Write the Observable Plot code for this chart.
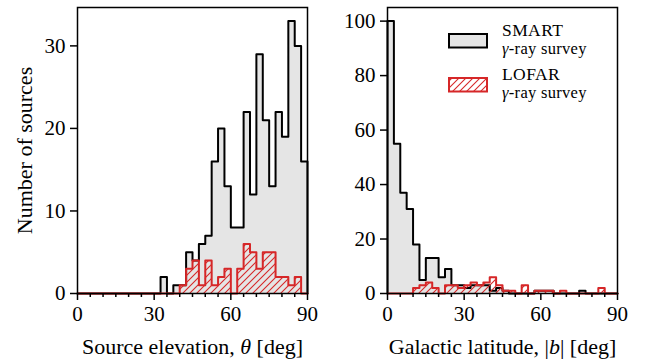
<!DOCTYPE html>
<html><head><meta charset="utf-8">
<script src="https://cdn.jsdelivr.net/npm/d3@7"></script>
<script src="https://cdn.jsdelivr.net/npm/@observablehq/plot@0.6"></script>
<style>
body{margin:0;background:#fff;}
#chart{position:relative;width:649px;height:359px;}
#chart svg{position:absolute;top:0;}
</style></head><body><div id="chart"></div>
<script>
// Histogram bin width (deg) and counts per 2.5-degree bin from 0 to 90
const binWidth = 2.5;
const elevSmart = [0,0,0,0,0,0,0,0,0,0,0,0,0,2,0,1,1,5,4,6,7,16,20,13,8,8,22,12,29,21,13,22,19,33,30,16];
const elevLofar = [0,0,0,0,0,0,0,0,0,0,0,0,0,0,0,0,1,3,4,1,4,1,2,3,0,3,6,5,3,5,5,2,2,1,2,0];
const latSmart  = [100,55,37,31,18,5,13,13,6,9,3,3,2,3,3,3,1,2,1,0,0,0,0,1,1,1,0,0,0,0,1,0,0,0,0,0];
const latLofar  = [0,0,0,0,2,3,4,2,0,3,3,2,3,4,3,4,6,3,1,1,0,3,0,1,1,1,0,1,0,0,0,0,0,2,0,0];
const xTicks = [0,30,60,90];
const xMinor = [5,10,15,20,25,35,40,45,50,55,65,70,75,80,85];
const yTicksLeft = [0,10,20,30];
const yTicksRight = [0,20,40,60,80,100];
const seriesNames = ["SMART", "LOFAR"];
const seriesSub = "γ-ray survey";

const RED = "#d62728";
const GRAY = "#e5e5e5";
const FONT = '"Liberation Serif", "Times New Roman", serif';

function steps(counts){
  const pts = [{x:0,y:0}];
  counts.forEach((c,i)=>pts.push({x:i*binWidth,y:c}));
  const end = counts.length*binWidth;
  pts.push({x:end,y:counts[counts.length-1]});
  pts.push({x:end,y:0});
  return pts;
}

function addHatch(svg, id){
  const defs = d3.select(svg).insert("defs", ":first-child");
  const p = defs.append("pattern").attr("id", id).attr("patternUnits","userSpaceOnUse")
    .attr("width",7).attr("height",7);
  p.append("path").attr("d","M-1,8 L8,-1 M-2,2 L2,-2 M5,9 L9,5")
    .attr("stroke",RED).attr("stroke-width",1.1).attr("fill","none");
}

function panel({smart, lofar, yMax, yTicks, xLabel, yLabel, marginLeft, width, hatchId}){
  const sPts = steps(smart), lPts = steps(lofar);
  const svg = Plot.plot({
    width, height: 359, marginLeft, marginRight: width - marginLeft - 230, marginTop: 7, marginBottom: 66,
    style: {fontFamily: FONT, fontSize: "21px", color: "#000", background: "transparent", overflow: "visible"},
    x: {domain: [0,90]},
    y: {domain: [0,yMax]},
    marks: [
      Plot.areaY(sPts, {x:"x", y:"y", curve:"step-after", fill:GRAY}),
      Plot.lineY(sPts, {x:"x", y:"y", curve:"step-after", stroke:"#000", strokeWidth:2}),
      Plot.areaY(lPts, {x:"x", y:"y", curve:"step-after", fill:`url(#${hatchId})`}),
      Plot.lineY(lPts, {x:"x", y:"y", curve:"step-after", stroke:RED, strokeWidth:2}),
      Plot.axisX({ticks: xMinor, tickSize: 4, text: null, label: null, strokeWidth: 1.5}),
      Plot.axisX({ticks: xTicks, tickSize: 7, tickPadding: 6, label: xLabel, labelAnchor: "center", labelArrow: "none", labelOffset: 60, fontSize: 22.5, strokeWidth: 1.5}),
      Plot.axisY({ticks: yTicks, tickSize: 7, tickPadding: 5, label: yLabel, labelAnchor: "center", labelArrow: "none", labelOffset: 61, strokeWidth: 1.5}),
      Plot.frame({stroke:"#000", strokeWidth:1.5})
    ]
  });
  addHatch(svg, hatchId);
  d3.select(svg).selectAll('g[aria-label="x-axis label"] text, g[aria-label="y-axis label"] text').attr("font-size", 22);
  d3.select(svg).selectAll('g[aria-label="x-axis tick label"] text, g[aria-label="y-axis tick label"] text').attr("font-size", 21);
  return svg;
}

const chart = document.getElementById("chart");
const left = panel({smart: elevSmart, lofar: elevLofar, yMax: 34.65, yTicks: yTicksLeft,
  xLabel: "Source elevation, θ [deg]", yLabel: "Number of sources", marginLeft: 77, width: 320, hatchId: "hatchL"});
left.style.left = "0px";
chart.appendChild(left);
const right = panel({smart: latSmart, lofar: latLofar, yMax: 105, yTicks: yTicksRight,
  xLabel: "Galactic latitude, |b| [deg]", yLabel: null, marginLeft: 67, width: 329, hatchId: "hatchR"});
right.style.left = "320px";
chart.appendChild(right);

// italic math symbols in axis labels
d3.select(left).selectAll('g[aria-label="x-axis label"] text')
  .html('Source elevation, <tspan font-style="italic">θ</tspan> [deg]');
d3.select(right).selectAll('g[aria-label="x-axis label"] text')
  .html('Galactic latitude, |<tspan font-style="italic">b</tspan>| [deg]');

// legend inside right panel
const lg = d3.select(right).append("g").attr("font-family", FONT).attr("font-size", 16.5)
  .attr("text-anchor", "start").attr("fill", "#000");
const entries = [
  {name: seriesNames[0], fill: GRAY, stroke: "#000", y: 34},
  {name: seriesNames[1], fill: "url(#hatchR)", stroke: RED, y: 78}
];
entries.forEach(e=>{
  lg.append("rect").attr("x",129).attr("y",e.y).attr("width",38).attr("height",13.5)
    .attr("fill",e.fill).attr("stroke",e.stroke).attr("stroke-width",2);
  lg.append("text").attr("x",182).attr("y",e.y+1.5).attr("text-anchor","start")
    .attr("font-size", 17.5).attr("letter-spacing", 0.4).text(e.name);
  const t = lg.append("text").attr("x",182).attr("y",e.y+20).attr("text-anchor","start")
    .attr("letter-spacing", 0.3);
  t.append("tspan").attr("font-style","italic").text(seriesSub.slice(0,1));
  t.append("tspan").text(seriesSub.slice(1));
});
</script></body></html>
